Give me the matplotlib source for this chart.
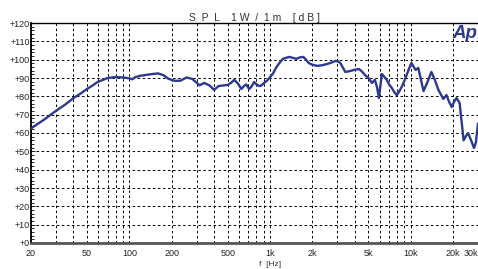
import matplotlib
matplotlib.use("Agg")
import matplotlib.pyplot as plt
from matplotlib.ticker import FixedLocator, MultipleLocator, NullFormatter

# ---- data ----
freq = [20, 25, 30, 35, 40, 45, 50, 55, 60, 65, 70, 80, 90, 100, 105, 110, 120, 140,
        160, 175, 190, 210, 230, 255, 280, 300, 315, 340, 370, 400, 430, 470, 500,
        530, 556, 590, 625, 650, 676, 710, 740, 770, 800, 838, 870, 906, 950, 1000,
        1050, 1100, 1160, 1230, 1300, 1370, 1450, 1540, 1620, 1720, 1800, 1880, 2000,
        2170, 2350, 2560, 2750, 2910, 3050, 3150, 3300, 3420, 3700, 4000, 4280, 4500,
        4720, 5000, 5290, 5550, 5750, 5930, 6220, 6500, 6750, 7000, 7320, 7600, 7930,
        8250, 8600, 9000, 9330, 9700, 10100, 10500, 10800, 11300, 11800, 12300, 13000,
        14000, 14800, 15700, 17000, 17900, 18700, 19500, 20300, 21100, 22200, 22800,
        23300, 23700, 24500, 25500, 26800, 28100, 29000, 30000]
spl = [62.5, 67.5, 72, 75.5, 79, 81.5, 84, 86, 88, 89, 90, 90.5, 90.3, 89.8, 89.3,
       90.5, 91.2, 92, 92.5, 91.5, 89.5, 88.5, 88.5, 90.3, 89.5, 87.5, 86, 87.3, 86,
       83.5, 85.6, 86, 86.2, 87.5, 89, 87, 84, 85.5, 86.5, 84, 85.5, 87.8, 86.5, 85.6,
       86, 87.3, 88.5, 90.5, 92.5, 95.5, 98, 100.4, 101, 101.5, 101, 100.4, 101.2,
       101.5, 100, 98.2, 97.2, 96.6, 97, 97.7, 98.5, 99.3, 99, 98.2, 95.5, 93.3, 93.8,
       94.5, 94.9, 93.5, 91.6, 90, 87.3, 89, 85, 79.1, 92.2, 90.5, 88.9, 86.5, 84.6,
       82.5, 80.7, 82.5, 85.1, 88.5, 91.6, 95, 98.2, 96, 94.4, 95.5, 89, 82.9, 87,
       93.3, 89, 83.5, 78.6, 80.7, 77, 74.2, 77, 79.1, 76.4, 68, 61.6, 56, 58, 60, 56,
       51.8, 55, 65]

xtick_vals = [20, 50, 100, 200, 500, 1000, 2000, 5000, 10000, 20000, 30000]
xtick_labels = ["20", "50", "100", "200", "500", "1k", "2k", "5k", "10k", "20k", "30k"]
ytick_vals = list(range(0, 121, 10))
ytick_labels = ["+%d" % v for v in ytick_vals]
xgrid_vals = [m * 10 ** e for e in (1, 2, 3) for m in range(1, 10) if m * 10 ** e >= 20] + [10000, 20000]

line_color = "#2b3990"

plt.rcParams['font.family'] = ['Liberation Sans', 'DejaVu Sans']

fig = plt.figure(figsize=(4.78, 2.69), dpi=100)
ax = fig.add_axes([31 / 478, 26 / 269, 447 / 478, 220 / 269])

ax.set_xscale('log')
ax.set_xlim(20, 30000)
ax.set_ylim(0, 120)

# grid
for xv in xgrid_vals:
    ax.axvline(xv, color='black', lw=0.7, dashes=(2.6, 2.6), zorder=1)
for yv in ytick_vals[1:-1]:
    ax.axhline(yv, color='black', lw=0.7, dashes=(2.6, 2.6), zorder=1)

ax.plot(freq, spl, color=line_color, lw=1.7, zorder=3, clip_on=True)

ax.xaxis.set_major_locator(FixedLocator(xtick_vals))
ax.set_xticklabels(xtick_labels)
ax.xaxis.set_minor_locator(FixedLocator([]))
ax.xaxis.set_minor_formatter(NullFormatter())
ax.tick_params(axis='x', length=0, labelsize=6.5, pad=4, colors='#222222')
lbls = ax.get_xticklabels()
lbls[-1].set_horizontalalignment('right')

ax.set_yticks(ytick_vals)
ax.set_yticklabels(ytick_labels)
ax.yaxis.set_minor_locator(MultipleLocator(2))
ax.tick_params(axis='y', which='major', direction='in', length=3, width=0.7,
               labelsize=6.5, pad=1, colors='#222222')
ax.tick_params(axis='y', which='minor', direction='in', length=2, width=0.6)

ax.spines['right'].set_visible(False)
ax.spines['top'].set_linewidth(1.0)
ax.spines['left'].set_linewidth(1.3)
ax.spines['bottom'].set_linewidth(2.0)
ax.spines['bottom'].set_color('#555555')

ax.set_title("S  P  L    1 W  /  1 m    [ d B ]", fontsize=7.5, color='#333333', pad=1.0)
fig.text(270 / 478, 1 - 264 / 269, "f  [Hz]", fontsize=6, color='#333333',
         ha='center', va='center')
fig.text(465 / 478, 1 - 34 / 269, "Ap", fontsize=13.5, fontweight='bold', fontstyle='italic',
         color=line_color, ha='center', va='center')

fig.savefig("out.png", dpi=100)
